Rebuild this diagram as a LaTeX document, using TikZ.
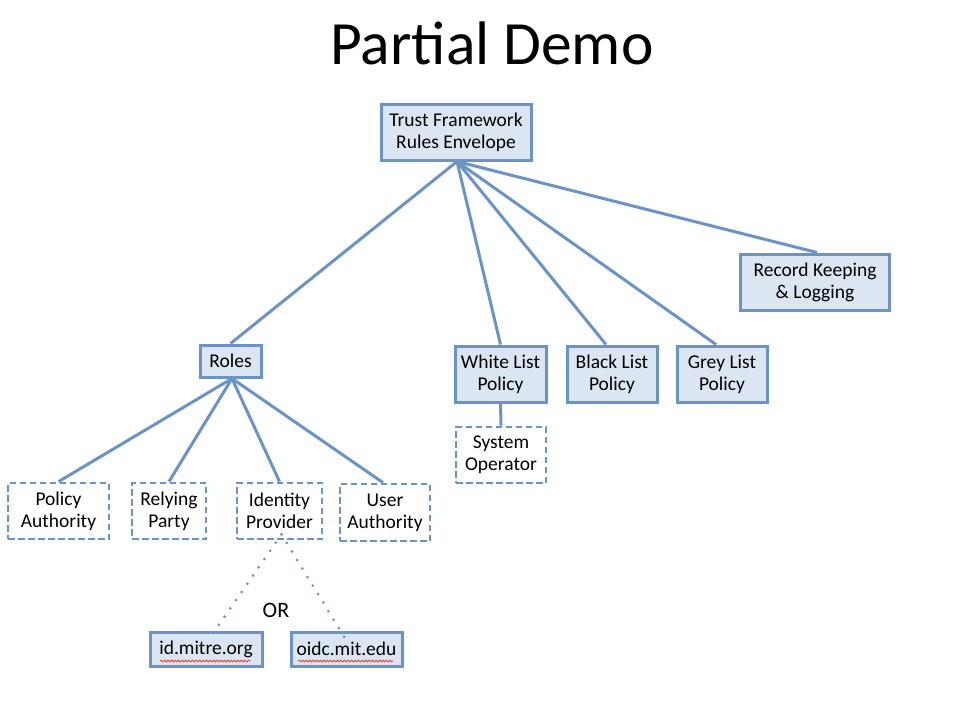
\documentclass[tikz,border=0pt]{standalone}
\usepackage{fontspec}
\setmainfont{Carlito}
\usetikzlibrary{decorations.pathmorphing}
\definecolor{bline}{HTML}{6C93C6}
\definecolor{bfill}{HTML}{DCE6F2}
\definecolor{squig}{HTML}{E0403A}
\begin{document}
\begin{tikzpicture}[x=1pt,y=-1pt,
  box/.style={draw=bline,line width=3pt,fill=bfill,inner sep=0pt,align=center,font=\fontsize{19.5}{22}\selectfont},
  dbox/.style={draw=bline,line width=2.8pt,dash pattern=on 6.5pt off 3.5pt,fill=white,inner sep=0pt,align=center,font=\fontsize{19.5}{22}\selectfont},
  conn/.style={draw=bline,line width=3pt},
  dconn/.style={draw=bline,line width=3pt,dash pattern=on 0pt off 10pt,line cap=round},
  sq/.style={draw=squig,line width=0.8pt,decorate,decoration={snake,amplitude=1pt,segment length=3.5pt}}]
\useasboundingbox (0,0) rectangle (974,716);
\node[font=\fontsize{61.5}{72}\selectfont] (title) at (492,43) {Partial Demo};
\node[box,minimum width=150pt,minimum height=56pt] (tf) at (456,132) {Trust Framework\\Rules Envelope};
\node[box,minimum width=149pt,minimum height=56pt] (rk) at (815,282) {Record Keeping\\\& Logging};
\node[box,minimum width=61pt,minimum height=32pt] (roles) at (230.5,361) {Roles};
\node[box,minimum width=91pt,minimum height=56pt] (wl) at (500.5,374) {White List\\Policy};
\node[box,minimum width=90pt,minimum height=56pt] (bl) at (612,374) {Black List\\Policy};
\node[box,minimum width=90pt,minimum height=56pt] (gl) at (722,374) {Grey List\\Policy};
\node[dbox,minimum width=90pt,minimum height=56pt] (so) at (501,455) {System\\Operator};
\node[dbox,minimum width=101pt,minimum height=56pt] (pa) at (58.5,511) {Policy\\Authority};
\node[dbox,minimum width=74pt,minimum height=56pt] (rp) at (169,511) {Relying\\Party};
\node[dbox,minimum width=85pt,minimum height=56pt] (ip) at (279.5,511) {Identity\\Provider};
\node[dbox,minimum width=90pt,minimum height=57pt] (ua) at (385,512.5) {User\\Authority};
\node[box,minimum width=112pt,minimum height=34pt] (im) at (206,649) {id.mitre.org};
\node[box,minimum width=111pt,minimum height=34pt] (om) at (346.5,649) {oidc.mit.edu};
\node[font=\fontsize{22}{26}\selectfont] (or) at (276,610) {OR};
\coordinate (tfb) at ([xshift=1pt]tf.south);
\draw[conn] (tfb) -- (roles.north);
\draw[conn] (tfb) -- (wl.north);
\draw[conn] (tfb) -- ([xshift=-6pt]bl.north);
\draw[conn] (tfb) -- ([xshift=-6pt]gl.north);
\draw[conn] (tfb) -- ([xshift=2pt]rk.north);
\coordinate (rb) at ([xshift=1.5pt]roles.south);
\draw[conn] (rb) -- (pa.north);
\draw[conn] (rb) -- (rp.north);
\draw[conn] (rb) -- (ip.north);
\draw[conn] (rb) -- ([xshift=-2pt]ua.north);
\draw[conn] (wl.south) -- (so.north);
\coordinate (ipb) at ([xshift=2pt,yshift=6pt]ip.south);
\draw[dconn] (ipb) -- ([xshift=4pt,yshift=-7pt]im.north);
\draw[dconn] (ipb) -- ([xshift=-2pt,yshift=-7pt]om.north);
\draw[sq] (160,661) -- (251,661);
\draw[sq] (298,661) -- (393,661);
\end{tikzpicture}
\end{document}
